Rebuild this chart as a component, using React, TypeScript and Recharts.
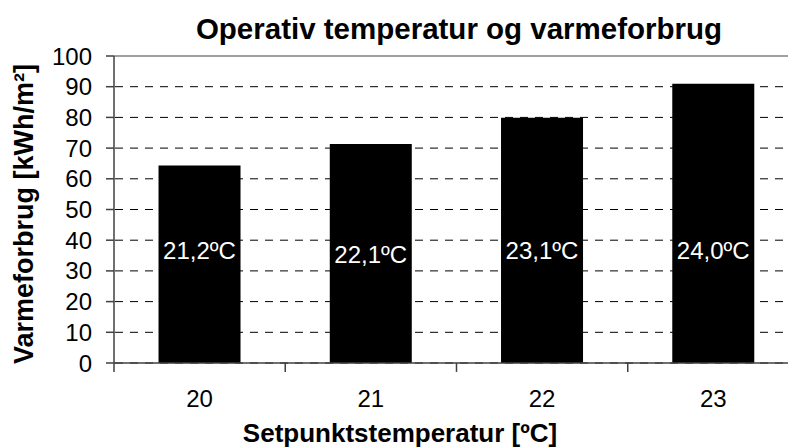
import React from 'react';
import { BarChart, Bar, XAxis, YAxis, CartesianGrid, ReferenceLine, LabelList } from 'recharts';

const categories = ['20', '21', '22', '23'];
const heatUse = [64.3, 71.3, 79.9, 91.0];
const operativeLabels = ['21,2ºC', '22,1ºC', '23,1ºC', '24,0ºC'];
const labelLevels = [36.5, 35.3, 36.5, 36.5];
const yTicks = [0, 10, 20, 30, 40, 50, 60, 70, 80, 90, 100];

const titleText = 'Operativ temperatur og varmeforbrug';
const yLabelText = 'Varmeforbrug [kWh/m²]';
const xLabelText = 'Setpunktstemperatur [ºC]';

const data = categories.map((c, i) => ({ cat: c, value: heatUse[i] }));

const FONT = '"Liberation Sans", Arial, sans-serif';
const TICK_DROP = 2.9; // length of category-boundary tick marks, in axis units

const InsideLabel = (props: any) => {
  const { x, y, width, height, index } = props;
  const v = heatUse[index];
  const level = labelLevels[index];
  const ly = y + height * (1 - level / v);
  return (
    <text
      x={x + width / 2}
      y={ly}
      textAnchor="middle"
      dominantBaseline="central"
      fill="#ffffff"
      fontSize={24}
      fontFamily={FONT}
    >
      {operativeLabels[index]}
    </text>
  );
};

export default function App() {
  const boundaries = [
    ...categories.map((c) => ({ cat: c, pos: 'start' as const })),
    { cat: categories[categories.length - 1], pos: 'end' as const },
  ];
  return (
    <div
      style={{
        position: 'absolute',
        left: 0,
        top: 0,
        width: 788,
        height: 447,
        overflow: 'hidden',
        background: '#fff',
        fontFamily: FONT,
      }}
    >
      <BarChart
        width={800}
        height={447}
        data={data}
        margin={{ top: 56, right: 1, left: 0, bottom: 83 }}
        barCategoryGap="26%"
      >
        <CartesianGrid
          vertical={false}
          stroke="#000"
          strokeDasharray="8 7"
          strokeDashoffset={-1}
        />
        <XAxis
          dataKey="cat"
          height={1}
          interval={0}
          tickLine={false}
          axisLine={{ stroke: '#404040', strokeWidth: 1.5 }}
          tickSize={0}
          tickMargin={27}
          tick={{ fill: '#000', fontSize: 24, fontFamily: FONT }}
        />
        <YAxis
          width={114}
          domain={[0, 100]}
          ticks={yTicks}
          interval={0}
          tickSize={8}
          tickMargin={14}
          axisLine={{ stroke: '#404040', strokeWidth: 1.5 }}
          tickLine={{ stroke: '#404040', strokeWidth: 1.5 }}
          tick={{ fill: '#000', fontSize: 24, fontFamily: FONT }}
        />
        <ReferenceLine y={100} stroke="#a0a0a0" strokeWidth={2} />
        <Bar dataKey="value" fill="#000" isAnimationActive={false}>
          <LabelList dataKey="value" content={InsideLabel} />
        </Bar>
        {boundaries.map((b, i) => (
          <ReferenceLine
            key={i}
            position={b.pos}
            segment={[
              { x: b.cat, y: 0 },
              { x: b.cat, y: -TICK_DROP },
            ]}
            ifOverflow="visible"
            stroke="#404040"
            strokeWidth={1.5}
          />
        ))}
      </BarChart>
      <svg
        width={788}
        height={447}
        style={{ position: 'absolute', left: 0, top: 0, pointerEvents: 'none' }}
      >
        <text x={459} y={39} textAnchor="middle" fontSize={29.5} fontWeight="bold" fill="#000" fontFamily={FONT}>
          {titleText}
        </text>
        <text
          x={33}
          y={214}
          textAnchor="middle"
          fontSize={27}
          fontWeight="bold"
          fill="#000"
          fontFamily={FONT}
          transform="rotate(-90 33 214)"
        >
          {yLabelText}
        </text>
        <text x={400} y={442} textAnchor="middle" fontSize={26} fontWeight="bold" fill="#000" fontFamily={FONT}>
          {xLabelText}
        </text>
      </svg>
    </div>
  );
}
